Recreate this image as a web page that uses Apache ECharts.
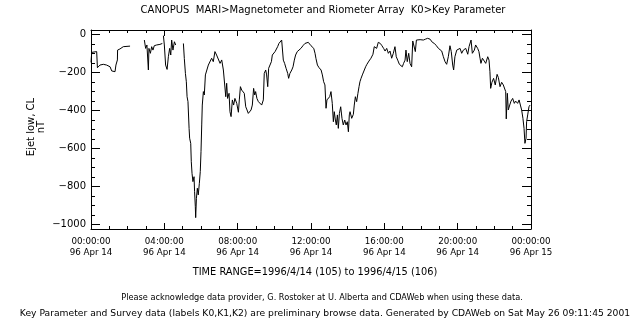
<!DOCTYPE html>
<html>
<head>
<meta charset="utf-8">
<script src="https://cdn.jsdelivr.net/npm/echarts@6/dist/echarts.min.js"></script>
<style>html,body{margin:0;padding:0;background:#fff}#c{width:640px;height:330px}</style>
</head>
<body>
<div id="c"></div>
<script>
// ---- data (hours since 1996-04-14 00:00 UT, CL index in nT; null = data gap) ----
var hours = [0,0.04,0.31,0.35,0.49,0.58,0.67,0.76,0.85,0.95,1.04,1.13,1.22,1.31,1.36,1.44,1.45,1.58,1.67,1.76,1.85,2.13,
  2.5,
  2.91,2.98,3.05,3.13,3.16,3.24,3.31,3.38,3.45,3.58,3.76,3.89,
  3.92,
  3.95,4.0,4.07,4.15,4.22,4.29,4.35,4.4,4.47,4.55,4.62,
  4.8,
  5.04,5.09,5.15,5.2,5.24,5.29,5.35,5.38,5.44,5.47,5.51,5.56,5.62,5.65,5.69,5.71,5.75,5.8,5.85,5.91,5.96,6.0,6.04,6.07,6.13,6.18,6.24,6.33,6.4,6.49,6.58,6.67,6.76,6.85,6.95,7.04,7.13,7.22,7.31,7.35,7.4,7.45,7.53,7.58,7.64,7.71,7.78,7.85,7.95,8.04,8.09,8.15,8.22,8.31,8.36,8.44,8.51,8.58,8.65,8.73,8.8,8.87,8.93,8.98,9.05,9.13,9.22,9.31,9.4,9.45,9.53,9.58,9.64,9.69,9.76,9.84,9.89,9.96,10.04,10.11,10.18,10.25,10.33,10.4,10.45,10.49,10.56,10.64,10.73,10.78,10.85,10.95,11.02,11.09,11.16,11.25,11.35,11.45,11.56,11.67,11.76,11.85,11.95,12.0,12.07,12.15,12.22,12.27,12.35,12.44,12.55,12.62,12.69,12.76,12.82,12.87,12.95,13.02,13.09,13.16,13.22,13.27,13.33,13.38,13.44,13.49,13.55,13.62,13.69,13.76,13.84,13.91,13.98,14.04,14.09,14.13,14.22,14.31,14.36,14.42,14.49,14.56,14.62,14.67,14.73,14.8,14.89,14.98,15.05,15.16,15.27,15.38,15.45,15.53,15.58,15.67,15.78,15.87,15.96,16.04,16.13,16.22,16.31,16.4,16.49,16.58,16.65,16.73,16.82,16.89,16.98,17.05,17.13,17.18,17.25,17.33,17.4,17.49,17.55,17.64,17.69,17.75,17.95,18.13,18.25,18.36,18.49,18.62,18.73,18.84,18.95,19.04,19.13,19.22,19.31,19.4,19.49,19.58,19.65,19.73,19.78,19.85,19.95,20.04,20.13,20.22,20.31,20.44,20.55,20.62,20.73,20.8,20.91,20.98,21.09,21.16,21.22,21.27,21.35,21.45,21.53,21.64,21.71,21.76,21.8,21.87,21.96,22.05,22.15,22.22,22.31,22.4,22.49,22.58,22.62,22.65,22.71,22.76,22.84,22.91,23.0,23.09,23.16,23.27,23.35,23.42,23.49,23.56,23.62,23.67,23.73,23.76,23.82,23.89,23.95];
var clValues = [-146,-93,-89,-174,-160,-151,-156,-146,-160,-151,-169,-191,-181,-195,-160,-133,-81,-75,-68,-63,-60,-60,
  null,
  -28,-72,-54,-186,-72,-98,-63,-81,-58,-54,-51,-46,
  null,
  -5,-54,-160,-183,-116,-72,-107,-28,-81,-37,-54,
  null,
  -46,-125,-204,-248,-327,-353,-494,-546,-573,-670,-731,-775,-749,-828,-907,-965,-863,-810,-845,-784,-722,-617,-476,-371,-300,-318,-212,-204,-160,-151,-124,-142,-89,-107,-116,-151,-133,-186,-195,-327,-256,-336,-309,-406,-432,-344,-371,-336,-362,-409,-344,-274,-292,-283,-309,-380,-397,-415,-423,-397,-371,-283,-318,-300,-336,-353,-362,-371,-344,-204,-186,-212,-274,-177,-177,-142,-107,-116,-89,-81,-63,-46,-37,-28,-37,-134,-151,-177,-204,-230,-204,-186,-169,-134,-107,-89,-81,-72,-58,-46,-37,-40,-46,-58,-54,-72,-98,-125,-160,-174,-186,-212,-248,-265,-388,-344,-353,-327,-300,-362,-459,-406,-450,-476,-423,-494,-415,-380,-441,-476,-450,-476,-459,-512,-423,-406,-441,-420,-371,-327,-353,-309,-274,-248,-230,-212,-204,-169,-156,-139,-124,-103,-63,-54,-72,-40,-46,-58,-72,-86,-72,-98,-86,-124,-98,-63,-116,-134,-156,-146,-169,-151,-134,-81,-142,-98,-151,-169,-33,-28,-89,-28,-26,-28,-23,-19,-23,-40,-46,-58,-72,-63,-86,-116,-142,-156,-116,-58,-89,-160,-186,-116,-81,-89,-72,-98,-81,-72,-103,-63,-28,-98,-81,-54,-72,-89,-124,-151,-124,-139,-151,-116,-134,-195,-283,-251,-230,-265,-209,-226,-274,-251,-265,-256,-300,-444,-309,-397,-371,-350,-336,-362,-350,-362,-344,-371,-397,-441,-494,-573,-546,-459,-423,-380,-371];

var xTickLabels = ['00:00:00\n96 Apr 14','04:00:00\n96 Apr 14','08:00:00\n96 Apr 14','12:00:00\n96 Apr 14','16:00:00\n96 Apr 14','20:00:00\n96 Apr 14','00:00:00\n96 Apr 15'];
var yMajorTicks = [0,-200,-400,-600,-800,-1000];
var yMinorTicks = [0,-50,-100,-150,-200,-250,-300,-350,-400,-450,-500,-550,-600,-650,-700,-750,-800,-850,-900,-950,-1000];

var titleText = 'CANOPUS  MARI>Magnetometer and Riometer Array  K0>Key Parameter';
var yName = 'Ejet low, CL\nnT';
var timeRangeText = 'TIME RANGE=1996/4/14 (105) to 1996/4/15 (106)';
var footer1 = 'Please acknowledge data provider, G. Rostoker at U. Alberta and CDAWeb when using these data.';
var footer2 = 'Key Parameter and Survey data (labels K0,K1,K2) are preliminary browse data. Generated by CDAWeb on Sat May 26 09:11:45 2001';

var seriesData = hours.map(function (h, i) { return [h, clValues[i]]; });

var FONT = 'DejaVu Sans';
var chart = echarts.init(document.getElementById('c'), null, {renderer: 'canvas'});

function xAxisDef(pos, showLabel) {
  return {
    type: 'value', position: pos, min: 0, max: 24, interval: 4,
    axisLine: {show: true, onZero: false, lineStyle: {color: '#000', width: 1}},
    axisTick: {show: true, inside: true, length: 6, lineStyle: {color: '#000'}},
    minorTick: {show: true, splitNumber: 4, length: 3, lineStyle: {color: '#000'}},
    splitLine: {show: false}, minorSplitLine: {show: false},
    axisLabel: {show: showLabel, margin: 7, color: '#000', fontFamily: FONT, fontSize: 8.7, lineHeight: 11,
      formatter: function (v) { return xTickLabels[Math.round(v / 4)]; }}
  };
}
function yAxisDef(pos, ticks, len, showLine, showLabel) {
  return {
    type: 'value', position: pos, min: -1025, max: 25,
    axisLine: {show: showLine, onZero: false, lineStyle: {color: '#000', width: 1}},
    axisTick: {show: true, inside: true, length: len, customValues: ticks, lineStyle: {color: '#000'}},
    splitLine: {show: false},
    axisLabel: {show: showLabel, customValues: ticks, margin: 5, color: '#000', fontFamily: FONT, fontSize: 10,
      formatter: function (v) { return String(v).replace('-', '\u2212'); }}
  };
}

chart.setOption({
  animation: false,
  backgroundColor: '#fff',
  title: [
    {text: titleText, left: 318, top: 0, textAlign: 'center',
     textStyle: {fontFamily: FONT, fontSize: 10, fontWeight: 'normal', color: '#000'}},
    {text: timeRangeText, left: 310, top: 262, textAlign: 'center',
     textStyle: {fontFamily: FONT, fontSize: 9.8, fontWeight: 'normal', color: '#000'}},
    {text: footer1, left: 317, top: 289, textAlign: 'center',
     textStyle: {fontFamily: FONT, fontSize: 8.2, fontWeight: 'normal', color: '#000'}},
    {text: footer2, left: 320, top: 304, textAlign: 'center',
     textStyle: {fontFamily: FONT, fontSize: 9.2, fontWeight: 'normal', color: '#000'}}
  ],
  graphic: [{
    type: 'text', x: 36, y: 127, rotation: Math.PI / 2,
    style: {text: yName, align: 'center', verticalAlign: 'middle', fontFamily: FONT, fontSize: 10, lineHeight: 10, fill: '#000'}
  }],
  grid: {left: 91, top: 30, width: 440, height: 199, containLabel: false},
  xAxis: [xAxisDef('bottom', true), xAxisDef('top', false)],
  yAxis: [
    yAxisDef('left', yMajorTicks, 9, true, true),
    yAxisDef('left', yMinorTicks, 4, false, false),
    yAxisDef('right', yMajorTicks, 9, true, false),
    yAxisDef('right', yMinorTicks, 4, false, false)
  ],
  series: [{
    type: 'line', data: seriesData, xAxisIndex: 0, yAxisIndex: 0,
    showSymbol: false, connectNulls: false, smooth: false,
    lineStyle: {color: '#000', width: 1}
  }]
});
</script>
</body>
</html>
